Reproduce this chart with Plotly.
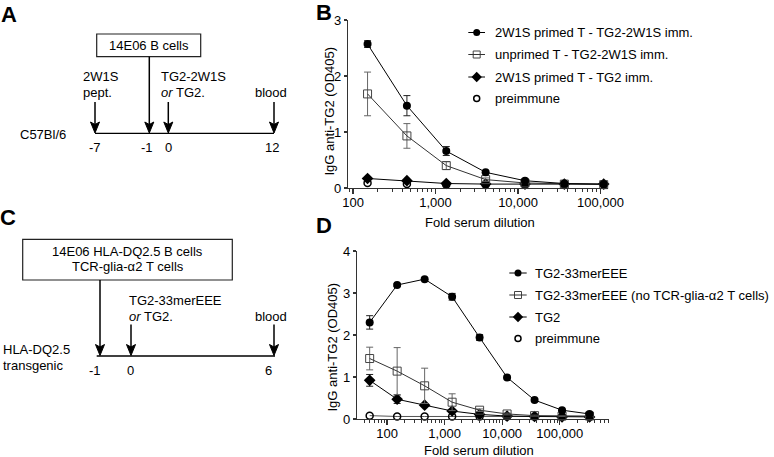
import math
import plotly.graph_objects as go

W, H = 774, 457
FONT = "Liberation Sans, Arial, sans-serif"

# ---------------- Panel B data ----------------
dil_b = [150, 450, 1350, 4050, 12150, 36450, 109350]
b_primed = [2.57, 1.47, 0.66, 0.28, 0.13, 0.08, 0.07]
b_primed_err = [0.06, 0.18, 0.08, 0.02, 0.02, 0.01, 0.01]
b_unprimed = [1.68, 0.93, 0.40, 0.15, 0.09, 0.07, 0.06]
b_unprimed_err = [0.39, 0.22, 0.07, 0.03, 0.01, 0.01, 0.01]
b_tg2 = [0.17, 0.13, 0.08, 0.07, 0.07, 0.07, 0.07]
b_tg2_err = [0.02, 0.02, 0.01, 0.01, 0.01, 0.01, 0.01]
b_pre = [0.09, 0.07, 0.06, 0.06, 0.06, 0.06, 0.06]
b_names = ["2W1S primed T - TG2-2W1S imm.", "unprimed T - TG2-2W1S imm.",
           "2W1S primed T - TG2 imm.", "preimmune"]

# ---------------- Panel D data ----------------
dil_d = [50, 150, 450, 1350, 4050, 12150, 36450, 109350, 328050]
d_33mer = [2.30, 3.19, 3.33, 2.91, 1.94, 0.99, 0.45, 0.21, 0.12]
d_33mer_err = [0.16, 0.03, 0.02, 0.08, 0.07, 0.03, 0.03, 0.02, 0.01]
d_noT = [1.44, 1.14, 0.79, 0.40, 0.21, 0.12, 0.08, 0.07, 0.07]
d_noT_err = [0.27, 0.56, 0.42, 0.20, 0.03, 0.02, 0.01, 0.01, 0.01]
d_tg2 = [0.92, 0.47, 0.33, 0.19, 0.11, 0.07, 0.06, 0.05, 0.05]
d_tg2_err = [0.14, 0.10, 0.03, 0.02, 0.01, 0.01, 0.01, 0.01, 0.01]
d_pre = [0.08, 0.06, 0.06, 0.06, 0.06, 0.06, 0.06, 0.06, 0.06]
d_names = ["TG2-33merEEE", "TG2-33merEEE (no TCR-glia-α2 T cells)", "TG2", "preimmune"]

x_tickvals = [100, 1000, 10000, 100000]
x_ticktext = ["100", "1,000", "10,000", "100,000"]

STYLES = [
    dict(symbol="circle", size=8, color="black", line=dict(width=0), lcolor="black", ecolor="#222"),
    dict(symbol="square-open", size=8, color="#444", line=dict(width=1, color="#444"), lcolor="#333", ecolor="#666"),
    dict(symbol="diamond", size=9, color="black", line=dict(width=0), lcolor="black", ecolor="#222"),
    dict(symbol="circle-open", size=7, color="black", line=dict(width=1.5, color="black"), lcolor="#555", ecolor="#444"),
]

fig = go.Figure()


def add_series(x, y, err, st, xa, ya, show_line=True):
    fig.add_trace(go.Scatter(
        x=x, y=y, xaxis=xa, yaxis=ya,
        mode="lines+markers" if show_line else "markers",
        line=dict(color=st["lcolor"], width=1),
        marker=dict(symbol=st["symbol"], size=st["size"], color=st["color"], line=st["line"]),
        error_y=dict(type="data", array=err, visible=err is not None, color=st["ecolor"],
                     thickness=1, width=3.5),
        cliponaxis=False, showlegend=False, hoverinfo="skip"))


# Panel B (draw preimmune first so it sits underneath)
add_series(dil_b, b_pre, None, STYLES[3], "x", "y", show_line=False)
add_series(dil_b, b_tg2, b_tg2_err, STYLES[2], "x", "y")
add_series(dil_b, b_unprimed, b_unprimed_err, STYLES[1], "x", "y")
add_series(dil_b, b_primed, b_primed_err, STYLES[0], "x", "y")

# Panel D
add_series(dil_d, d_pre, None, STYLES[3], "x2", "y2")
add_series(dil_d, d_tg2, d_tg2_err, STYLES[2], "x2", "y2")
add_series(dil_d, d_noT, d_noT_err, STYLES[1], "x2", "y2")
add_series(dil_d, d_33mer, d_33mer_err, STYLES[0], "x2", "y2")


def px_x(p):
    return p / W


def px_y(p):
    return 1 - p / H


axis_common = dict(showline=True, linecolor="#333", linewidth=1.2, ticks="outside",
                   tickcolor="#333", tickwidth=1.2, showgrid=False, zeroline=False,
                   automargin=False,
                   tickfont=dict(family=FONT, size=13, color="black"))

xaxis_log = dict(axis_common, type="log", tickmode="array", tickvals=x_tickvals,
                 ticktext=x_ticktext, ticklen=5, ticklabelstandoff=-3,
                 minor=dict(ticks="outside", ticklen=3, tickcolor="#333", tickwidth=1, dtick="D1",
                            showgrid=False))

fig.update_layout(
    template="none",
    width=W, height=H, margin=dict(l=0, r=0, t=0, b=0, pad=0), autosize=False,
    paper_bgcolor="white", plot_bgcolor="rgba(0,0,0,0)",
    font=dict(family=FONT, size=13, color="black"),
    xaxis=dict(xaxis_log, domain=[px_x(348), px_x(608)], range=[1.939, 5.091], anchor="y"),
    yaxis=dict(axis_common, domain=[px_y(188), px_y(20)], range=[0, 3], tickvals=[0, 1, 2, 3],
               ticklen=3, anchor="x"),
    xaxis2=dict(xaxis_log, domain=[px_x(357), px_x(609)], range=[1.479, 5.854], anchor="y2"),
    yaxis2=dict(axis_common, domain=[px_y(419), px_y(251)], range=[0, 4], tickvals=[0, 1, 2, 3, 4],
                ticklen=3, anchor="x2"),
    xaxis3=dict(domain=[0, 1], range=[0, W], visible=False, fixedrange=True, anchor="y3",
                automargin=False),
    yaxis3=dict(domain=[0, 1], range=[H, 0], visible=False, fixedrange=True, anchor="x3",
                automargin=False),
)

shapes = []
annotations = []


def text(x, y, s, size=13, xanchor="left", bold=False, angle=0):
    annotations.append(dict(x=x, y=y, xref="x3", yref="y3", text=("<b>%s</b>" % s) if bold else s,
                            showarrow=False, xanchor=xanchor, yanchor="middle", textangle=angle,
                            borderpad=0, borderwidth=0,
                            font=dict(family=FONT, size=size, color="black")))


def line(x0, y0, x1, y1, w=1.3, color="black"):
    shapes.append(dict(type="line", x0=x0, y0=y0, x1=x1, y1=y1, xref="x3", yref="y3",
                       line=dict(color=color, width=w)))


def arrow(x, y0, y1):
    # vertical arrow pointing down, tip at y1
    line(x, y0, x, y1 - 8, w=1.5)
    shapes.append(dict(type="path", xref="x3", yref="y3",
                       path="M %f,%f L %f,%f L %f,%f L %f,%f Z" % (x - 4.5, y1 - 11, x, y1 - 8.5, x + 4.5, y1 - 11, x, y1),
                       fillcolor="black", line=dict(color="black", width=1)))


def rect(x0, y0, x1, y1):
    shapes.append(dict(type="rect", x0=x0, y0=y0, x1=x1, y1=y1, xref="x3", yref="y3",
                       line=dict(color="#222", width=1.2), fillcolor="rgba(0,0,0,0)"))


# ---------- Panel letters ----------
text(1, 14, "A", size=22, bold=True)
text(316, 12, "B", size=22, bold=True)
text(0, 217, "C", size=22, bold=True)
text(316, 225, "D", size=22, bold=True)

# ---------- Panel A diagram ----------
rect(96.7, 34, 200.7, 56.7)
text(148.7, 45.5, "14E06 B cells", xanchor="center")
line(95, 133.3, 274, 133.3)
arrow(95, 102, 133)
arrow(149.3, 56.7, 133)
arrow(168.3, 102, 133)
arrow(274, 102, 133)
text(83, 76, "2W1S")
text(83, 92, "pept.")
text(161, 76, "TG2-2W1S")
text(161, 92, "<i>or</i> TG2.")
text(255, 92, "blood")
text(20, 134.5, "C57Bl/6")
text(95, 147, "-7", xanchor="center")
text(147, 147, "-1", xanchor="center")
text(168, 147, "0", xanchor="center")
text(272, 147, "12", xanchor="center")

# ---------- Panel C diagram ----------
rect(22.7, 239.3, 232.3, 280)
text(127.5, 251, "14E06 HLA-DQ2.5 B cells", xanchor="center")
text(127.5, 266.5, "TCR-glia-α2 T cells", xanchor="center")
line(96.7, 356, 275, 356)
arrow(100, 280, 355.5)
arrow(131, 324.5, 355.5)
arrow(274, 324.5, 355.5)
text(128.5, 300, "TG2-33merEEE")
text(128.5, 316, "<i>or</i> TG2.")
text(255, 316, "blood")
text(3, 349, "HLA-DQ2.5")
text(3, 365, "transgenic")
text(94.5, 370, "-1", xanchor="center")
text(130, 370, "0", xanchor="center")
text(268.5, 370, "6", xanchor="center")

# ---------- Axis titles ----------
text(328.5, 111, "IgG anti-TG2 (OD405)", xanchor="center", angle=-90)
text(480, 222, "Fold serum dilution", xanchor="center")
text(331.5, 347, "IgG anti-TG2 (OD405)", xanchor="center", angle=-90)
text(479, 450, "Fold serum dilution", xanchor="center")


# ---------- Legends ----------
def legend(xm, x0, x1, xt, ys, names, sizes):
    for i, (yy, nm) in enumerate(zip(ys, names)):
        st = STYLES[i]
        if i < 3:
            line(x0, yy, x1, yy, w=1, color=st["lcolor"])
        fig.add_trace(go.Scatter(
            x=[xm], y=[yy], xaxis="x3", yaxis="y3", mode="markers",
            marker=dict(symbol=st["symbol"], size=sizes[i], color=st["color"], line=st["line"]),
            showlegend=False, hoverinfo="skip", cliponaxis=False))
        text(xt, yy, nm)


legend(476.7, 468.3, 485, 495, [32.5, 54.5, 77, 98.5], b_names, [7, 7, 8, 6])
legend(518, 509.3, 526.7, 535, [273, 295, 317, 338.5], d_names, [7, 7, 8, 6])

fig.update_layout(shapes=shapes, annotations=annotations)
post = (
    "document.documentElement.style.margin='0';"
    "document.documentElement.style.overflow='hidden';"
    "document.body.style.margin='0';document.body.style.padding='0';"
    "document.body.style.overflow='hidden';"
    "var g=document.getElementById('{plot_id}');"
    "g.style.position='absolute';g.style.left='0px';g.style.top='0px';"
)
fig.write_html("out.html", config={"displayModeBar": False, "staticPlot": True},
               post_script=post)
